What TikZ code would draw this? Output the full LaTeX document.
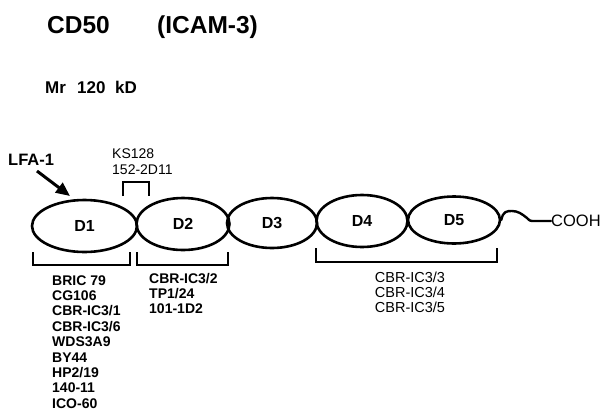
\documentclass[tikz,border=0pt]{standalone}
\usepackage{fontspec}
\setmainfont{Liberation Sans}
\usetikzlibrary{shapes.geometric,arrows.meta}
\tikzset{
  dom/.style={draw, ellipse, line width=2.6pt, inner sep=0pt, font=\fontsize{16}{18}\selectfont\bfseries},
  brk/.style={line width=1.4pt},
  lbl/.style={anchor=base west, inner sep=0pt},
  lstb/.style={lbl, font=\fontsize{14}{16}\selectfont\bfseries},
  lstr/.style={anchor=base, inner sep=0pt, font=\fontsize{14.5}{16}\selectfont},
}
\begin{document}
\begin{tikzpicture}[x=1pt,y=-1pt]
\useasboundingbox (0,0) rectangle (607,410);
% titles
\node[lbl, font=\fontsize{24.5}{28}\selectfont\bfseries] (t1) at (47,33) {CD50};
\node[lbl, font=\fontsize{24.5}{28}\selectfont\bfseries] (t2) at (157,33) {(ICAM-3)};
\node[lbl, font=\fontsize{17}{20}\selectfont\bfseries] (mr) at (45,93) {Mr};
\node[lbl, font=\fontsize{17}{20}\selectfont\bfseries] (mw) at (77,93) {120};
\node[lbl, font=\fontsize{17}{20}\selectfont\bfseries] (kd) at (115,93) {kD};
% domains
\node[dom, minimum width=105pt, minimum height=52pt] (d1) at (84.5,226) {D1};
\node[dom, minimum width=93pt, minimum height=52pt] (d2) at (183,224) {D2};
\node[dom, minimum width=90pt, minimum height=50pt] (d3) at (272,223) {D3};
\node[dom, minimum width=91pt, minimum height=52pt] (d4) at (362,221) {D4};
\node[dom, minimum width=92pt, minimum height=47pt] (d5) at (454,220) {D5};
% tail
\node[lbl, anchor=west, font=\fontsize{16.5}{18}\selectfont] (cooh) at (551,221) {COOH};
\draw[line width=2.4pt, line cap=round] (d5.east) .. controls (503,211) and (507,211) .. (512,211)
  .. controls (518,211) and (522,214) .. (527,218) .. controls (530,221) .. (535,221) -- (cooh.west);
% LFA-1
\node[lbl, font=\fontsize{16.5}{18}\selectfont\bfseries] (lfa) at (8,165) {LFA-1};
\coordinate (atail) at (37,171);
\coordinate (ahead) at (70,196);
\draw[line width=3pt, -{Triangle[length=14pt,width=12pt]}] (atail) -- (ahead);
% KS128 bracket
\node[lbl, font=\fontsize{14}{16}\selectfont] (ks) at (112,158) {KS128};
\node[lbl, font=\fontsize{14}{16}\selectfont] (ks2) at (112,174) {152-2D11};
\draw[brk] (123,196) |- (149,182) -- (149,196);
% lower brackets
\draw[brk] (33,252) |- (130,265) -- (130,252);
\draw[brk] (137,252) |- (228,265) -- (228,252);
\draw[brk] (316,248) |- (497,262) -- (497,248);
% D1 antibodies
\foreach \t [count=\i] in {BRIC 79,CG106,CBR-IC3/1,CBR-IC3/6,WDS3A9,BY44,HP2/19,140-11,ICO-60}
  \node[lstb] (a\i) at (52,{285+15.4*(\i-1)}) {\t};
% D2 antibodies
\foreach \t [count=\i] in {CBR-IC3/2,TP1/24,101-1D2}
  \node[lstb] (b\i) at (149,{283+15.4*(\i-1)}) {\t};
% D4-D5 antibodies
\foreach \t [count=\i] in {CBR-IC3/3,CBR-IC3/4,CBR-IC3/5}
  \node[lstr] (c\i) at (410,{282+15*(\i-1)}) {\t};
\end{tikzpicture}
\end{document}
